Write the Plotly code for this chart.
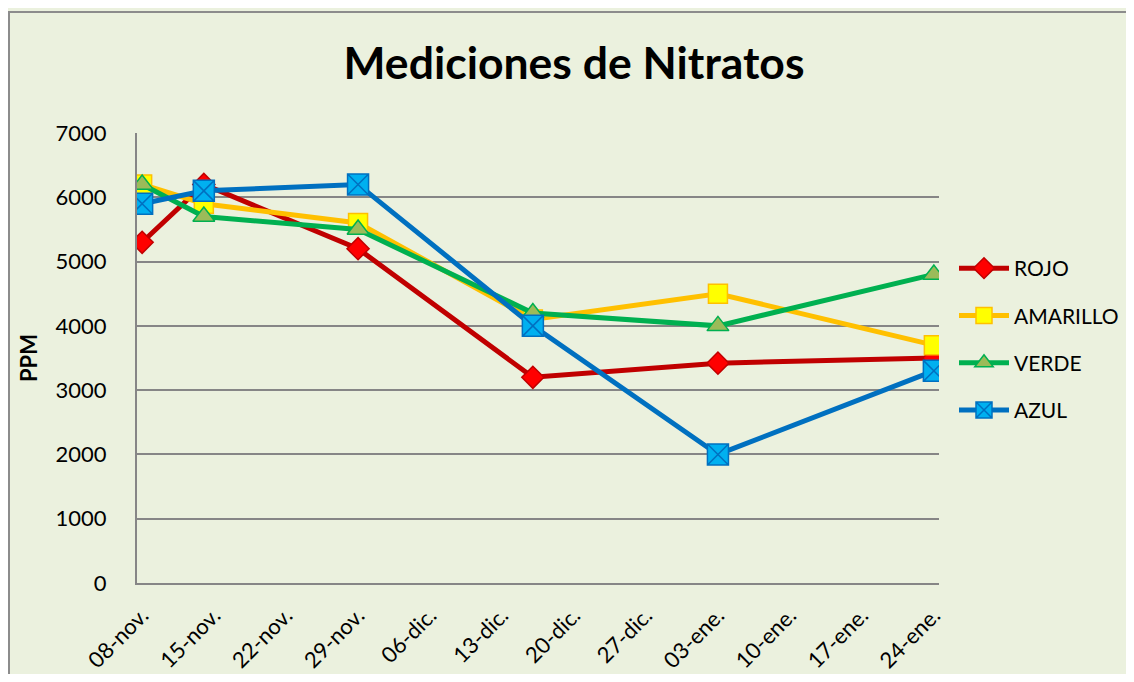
import plotly.graph_objects as go

dates = ["2012-11-08", "2012-11-14", "2012-11-29", "2012-12-16", "2013-01-03", "2013-01-24"]
rojo = [5300, 6200, 5200, 3200, 3420, 3500]
amarillo = [6200, 5900, 5600, 4100, 4500, 3700]
verde = [6200, 5700, 5500, 4200, 4000, 4800]
azul = [5900, 6100, 6200, 4000, 2000, 3300]

tick_dates = ["2012-11-08", "2012-11-15", "2012-11-22", "2012-11-29", "2012-12-06", "2012-12-13",
              "2012-12-20", "2012-12-27", "2013-01-03", "2013-01-10", "2013-01-17", "2013-01-24"]
tick_labels = ["08-nov.", "15-nov.", "22-nov.", "29-nov.", "06-dic.", "13-dic.",
               "20-dic.", "27-dic.", "03-ene.", "10-ene.", "17-ene.", "24-ene."]

series = [
    ("ROJO", rojo, "#C00000", "diamond", "#FF0000", "#C00000", 17),
    ("AMARILLO", amarillo, "#FFC000", "square", "#FFFF00", "#FFC000", 19),
    ("VERDE", verde, "#00B050", "triangle-up", "#9BBB59", "#00B050", 19),
    ("AZUL", azul, "#0070C0", "square-x", "#00B0F0", "#0070C0", 21),
]

FONT = "Lato"
fig = go.Figure()
for i, (name, vals, lc, sym, mfill, mline, msize) in enumerate(series):
    fig.add_trace(go.Scatter(
        x=dates, y=vals, name=name, mode="lines+markers",
        legendgroup=name,
        line=dict(color=lc, width=5),
        marker=dict(symbol=sym, size=msize, color=mfill, line=dict(color=mline, width=1.5)),
    ))

# page body has an 8px margin, so figure pixel = screen pixel - 8
OFF = 8
W, H = 1134 - OFF, 682 - 2 * OFF
L, R, T, B = 137 - OFF, 939 - OFF, 133 - OFF, 583 - OFF
pw, ph = R - L, B - T

def px(x):
    return (x - OFF - L) / pw

def py(y):
    return (B - (y - OFF)) / ph

fig.add_shape(type="rect", xref="paper", yref="paper", layer="below",
              x0=px(9), x1=px(1160), y0=py(700), y1=py(12),
              fillcolor="#EBF1DE", line=dict(color="#8C8C8C", width=2))

fig.update_layout(
    width=W, height=H,
    margin=dict(l=L, r=W - R, t=T, b=H - B, autoexpand=False),
    paper_bgcolor="#EBF1DE", plot_bgcolor="white",
    font=dict(family=FONT, color="black", size=21),
    title=dict(text="<b>Mediciones de Nitratos</b>", x=(574 - OFF) / W, xanchor="center",
               y=1 - (63 - OFF) / H, yanchor="middle", font=dict(family=FONT, size=44.5, color="black")),
    showlegend=True,
    legend=dict(x=px(954), xanchor="left", y=py(248), yanchor="top",
                bgcolor="rgba(0,0,0,0)", font=dict(family=FONT, size=21),
                traceorder="grouped", tracegroupgap=17, itemwidth=50),
    xaxis=dict(type="date", range=["2012-11-07 12:00", "2013-01-24 12:00"],
               tickvals=tick_dates, ticktext=tick_labels, tickangle=-45,
               showgrid=False, showline=True, linecolor="#868686", linewidth=2,
               ticks="", ticklabelstandoff=9, zeroline=False, automargin=False,
               tickfont=dict(family=FONT, size=22)),
    yaxis=dict(range=[0, 7000], dtick=1000, showgrid=True, gridcolor="#868686", gridwidth=2,
               showline=True, linecolor="#868686", linewidth=2, zeroline=False,
               ticks="", ticklabelstandoff=24, tickformat="d", automargin=False,
               tickfont=dict(family=FONT, size=22),
               title=dict(text="<b>PPM</b>", standoff=12, font=dict(family=FONT, size=22))),
)

fig.write_html("out.html")
